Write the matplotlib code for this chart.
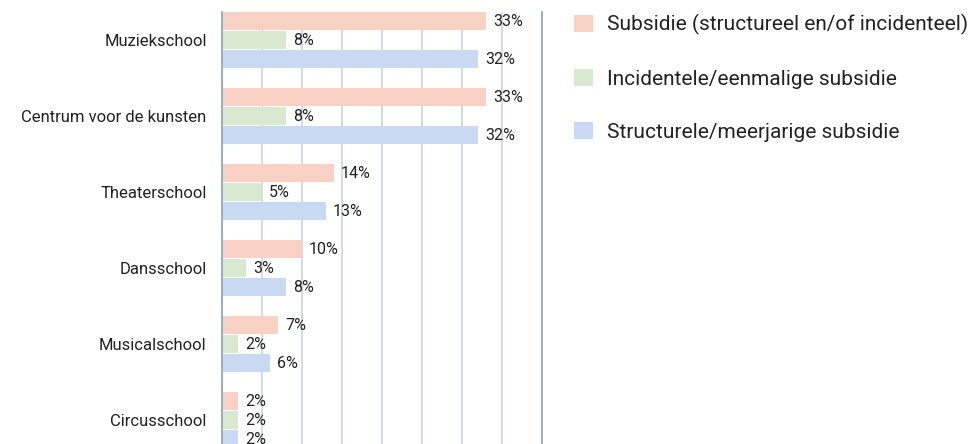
import matplotlib.pyplot as plt
import numpy as np

plt.rcParams['font.family'] = ['Roboto', 'DejaVu Sans']

categories = ['Muziekschool', 'Centrum voor de kunsten', 'Theaterschool',
              'Dansschool', 'Musicalschool', 'Circusschool']
subsidie = [33, 33, 14, 10, 7, 2]
incidenteel = [8, 8, 5, 3, 2, 2]
structureel = [32, 32, 13, 8, 6, 2]
series_names = ['Subsidie (structureel en/of incidenteel)',
                'Incidentele/eenmalige subsidie',
                'Structurele/meerjarige subsidie']
colors = ['#F9D0C4', '#D9E9D0', '#C9D9F1']

fig = plt.figure(figsize=(9.79, 4.44), dpi=100)
ax = fig.add_axes([222 / 979, 0, 320 / 979, 1 - 12 / 444])

y = np.arange(len(categories))
h = 0.237
step = 0.25
for i, (vals, name, c) in enumerate(zip([subsidie, incidenteel, structureel], series_names, colors)):
    bars = ax.barh(y + (i - 1) * step, vals, h, color=c, label=name, zorder=2)
    ax.bar_label(bars, labels=[f'{v}%' for v in vals], padding=5, fontsize=11.5, color='#222222')

ax.set_xlim(0, 40)
ax.set_ylim(5.31, -0.37)
ax.set_xticks(np.arange(0, 41, 5))
ax.grid(axis='x', color='#C9D6E2', linewidth=1.2, zorder=0)
ax.tick_params(axis='x', length=0, labelbottom=False)
ax.tick_params(axis='y', length=0, labelsize=12, pad=11, colors='#222222')
ax.set_yticks(y)
ax.set_yticklabels(categories)
for s in ['top', 'bottom']:
    ax.spines[s].set_visible(False)
ax.spines['left'].set_color('#8DA2B6')
ax.spines['right'].set_color('#8DA2B6')
ax.spines['left'].set_linewidth(1.2)
ax.spines['right'].set_linewidth(1.2)

leg = ax.legend(loc='upper left', bbox_to_anchor=(1.075, 1.014), frameon=False,
                fontsize=15, handlelength=0.9, handleheight=0.9,
                handletextpad=0.68, labelspacing=1.6, borderaxespad=0)
for t in leg.get_texts():
    t.set_color('#222222')

fig.savefig('out.png', dpi=100)
